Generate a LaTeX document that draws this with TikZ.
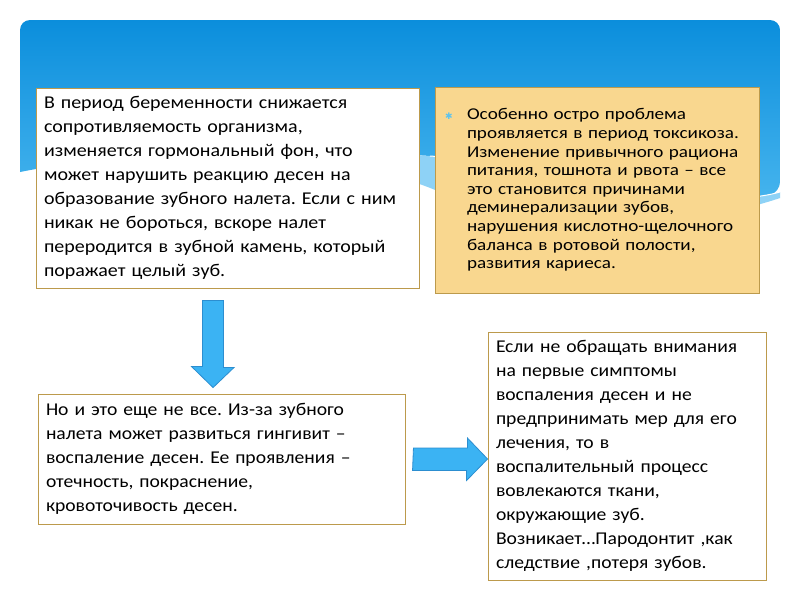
\documentclass[tikz,border=0pt]{standalone}
\usepackage{fontspec}
\setmainfont{Carlito}[FakeStretch=1.09]
\newfontfamily\leadfont{Carlito}[FakeStretch=1.11]
\newfontfamily\notefont{Carlito}[FakeStretch=1.16]
\newfontfamily\symfont{DejaVu Sans}
\usetikzlibrary{calc, positioning}
\definecolor{skyTop}{HTML}{0B8EDC}
\definecolor{skyBottom}{HTML}{4AB7EF}
\definecolor{skyLight}{HTML}{8ED2F6}
\definecolor{boxEdge}{HTML}{BC9A4C}
\definecolor{noteFill}{HTML}{F9D78F}
\definecolor{arrowFill}{HTML}{3BB3F3}
\definecolor{arrowEdge}{HTML}{2C8ED0}
\definecolor{bulletBlue}{HTML}{5DC3EE}
\def\bodySize{\frenchspacing\fontsize{18}{24}\selectfont}
\def\noteSize{\frenchspacing\notefont\fontsize{16.5}{18.6}\selectfont}
\def\bulletGap{24pt}

\begin{document}
\begin{tikzpicture}[x=1pt, y=-1pt,
    panel/.style={draw=boxEdge, line width=0.9pt, fill=white, inner xsep=8pt, inner ysep=0pt,
        align=left, text width=#1, font=\bodySize},
    note/.style={panel=#1, fill=noteFill, font=\noteSize},
    blockarrow/.style={fill=arrowFill, draw=arrowEdge, line width=0.8pt, line join=miter}]
    \fill[white] (0,0) rectangle (800,600);
    \useasboundingbox (0,0) rectangle (800,600);

    % Sky header
    \shade[top color=skyTop, bottom color=skyBottom] (20,172) [rounded corners=10pt] -- (20,20) -- (780,20) -- (780,192)
        [sharp corners] .. controls (700,215) and (560,165) .. (430,156) .. controls (280,146) and (120,152) .. (20,172) -- cycle;
    \fill[skyLight] (250,150) .. controls (340,158) and (400,175) .. (440,192) .. controls (560,240) and (700,225) .. (780,198)
        -- (780,192) .. controls (700,215) and (560,165) .. (430,156) .. controls (360,151) and (300,149) .. (250,150) -- cycle;
    \draw[white, line width=1pt] (780,192) .. controls (700,215) and (560,165) .. (430,156);

    % Text boxes
    \node[panel=367pt, minimum width=383pt, minimum height=200pt, font=\bodySize\leadfont] (b1) at (227.5,188) {%
        В период беременности снижается\\
        сопротивляемость организма,\\
        изменяется гормональный фон, что\\
        может нарушить реакцию десен на\\
        образование зубного налета. Если с ним\\
        никак не бороться, вскоре налет\\
        переродится в зубной камень, который\\
        поражает целый зуб.};
    \node[note=308pt, minimum width=324pt, minimum height=206pt] (b2) at (597,190) {%
        \leftskip=\bulletGap\noindent\llap{\makebox[\bulletGap][l]{\hspace{2pt}\textcolor{bulletBlue}{\symfont\fontsize{9}{9}\selectfont ✱}}}%
        Особенно остро проблема\\
        проявляется в период токсикоза.\\
        Изменение привычного рациона\\
        питания, тошнота и рвота – все\\
        это становится причинами\\
        деминерализации зубов,\\
        нарушения кислотно-щелочного\\
        баланса в ротовой полости,\\
        развития кариеса.\par};
    \node[panel=351pt, minimum width=367pt, minimum height=130pt] (b3) at (221.5,459) {%
        Но и это еще не все. Из-за зубного\\
        налета может развиться гингивит –\\
        воспаление десен. Ее проявления –\\
        отечность, покраснение,\\
        кровоточивость десен.};
    \node[panel=262pt, minimum width=278pt, minimum height=248pt] (b4) at (627,456) {%
        Если не обращать внимания\\
        на первые симптомы\\
        воспаления десен и не\\
        предпринимать мер для его\\
        лечения, то в\\
        воспалительный процесс\\
        вовлекаются ткани,\\
        окружающие зуб.\\
        Возникает…Пародонтит ,как\\
        следствие ,потеря зубов.};

    % Block arrows
    \coordinate (downStart) at ($(b1.south west)+(177.5,12)$);
    \coordinate (downEnd) at ($(b3.north west)+(175.5,-6)$);
    \draw[blockarrow] (downStart) ++(-10.5,0) -- ++(21,0) -- ++(0,67) -- ++(10.5,0) -- (downEnd)
        -- ++(-21.5,-21) -- ++(11,0) -- cycle;
    \coordinate (rightStart) at ($(b3.east)+(8,0)$);
    \coordinate (rightEnd) at ($(b4.west)+(0,3)$);
    \draw[blockarrow] (rightStart) ++(0,-11) -- ++(54,0) -- ++(0,-10) -- (rightEnd)
        -- ++(-21,21.5) -- ++(0,-10) -- ++(-54,0) -- cycle;
\end{tikzpicture}
\end{document}
